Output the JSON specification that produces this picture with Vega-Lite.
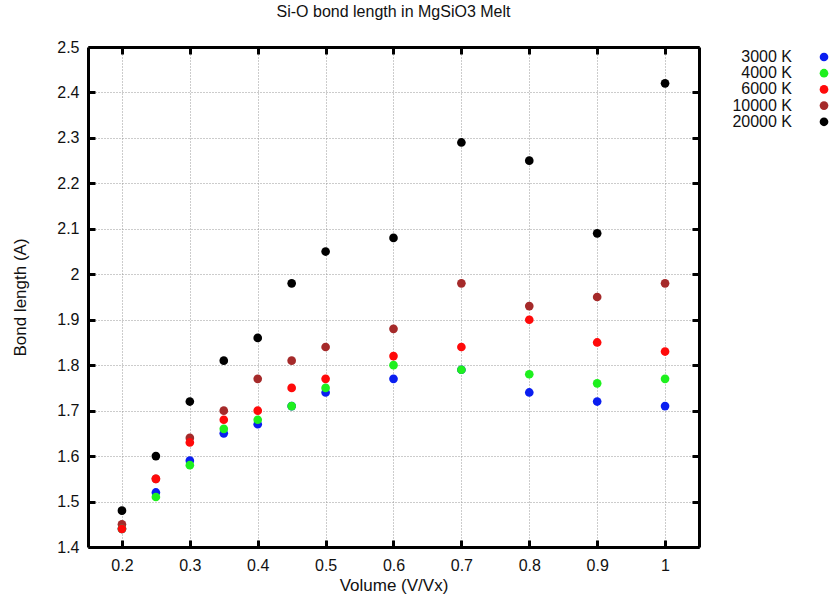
{
  "$schema": "https://vega.github.io/schema/vega-lite/v6.json",
  "width": 611,
  "height": 500,
  "autosize": "none",
  "padding": {"left": 88, "top": 47, "right": 131, "bottom": 52},
  "background": "white",
  "config": {
    "view": {"stroke": null},
    "font": "Liberation Sans",
    "title": {"font": "Liberation Sans", "fontSize": 16, "fontWeight": "normal", "color": "#111"}
  },
  "title": {"text": "Si-O bond length in MgSiO3 Melt", "offset": 19},
  "data": {"values": [
    {"v": 0.2, "T": "3000 K", "b": 1.44}, {"v": 0.25, "T": "3000 K", "b": 1.52}, {"v": 0.3, "T": "3000 K", "b": 1.59}, {"v": 0.35, "T": "3000 K", "b": 1.65}, {"v": 0.4, "T": "3000 K", "b": 1.67}, {"v": 0.45, "T": "3000 K", "b": 1.71}, {"v": 0.5, "T": "3000 K", "b": 1.74}, {"v": 0.6, "T": "3000 K", "b": 1.77}, {"v": 0.7, "T": "3000 K", "b": 1.79}, {"v": 0.8, "T": "3000 K", "b": 1.74}, {"v": 0.9, "T": "3000 K", "b": 1.72}, {"v": 1.0, "T": "3000 K", "b": 1.71},
    {"v": 0.2, "T": "4000 K", "b": 1.44}, {"v": 0.25, "T": "4000 K", "b": 1.51}, {"v": 0.3, "T": "4000 K", "b": 1.58}, {"v": 0.35, "T": "4000 K", "b": 1.66}, {"v": 0.4, "T": "4000 K", "b": 1.68}, {"v": 0.45, "T": "4000 K", "b": 1.71}, {"v": 0.5, "T": "4000 K", "b": 1.75}, {"v": 0.6, "T": "4000 K", "b": 1.80}, {"v": 0.7, "T": "4000 K", "b": 1.79}, {"v": 0.8, "T": "4000 K", "b": 1.78}, {"v": 0.9, "T": "4000 K", "b": 1.76}, {"v": 1.0, "T": "4000 K", "b": 1.77},
    {"v": 0.2, "T": "6000 K", "b": 1.44}, {"v": 0.25, "T": "6000 K", "b": 1.55}, {"v": 0.3, "T": "6000 K", "b": 1.63}, {"v": 0.35, "T": "6000 K", "b": 1.68}, {"v": 0.4, "T": "6000 K", "b": 1.70}, {"v": 0.45, "T": "6000 K", "b": 1.75}, {"v": 0.5, "T": "6000 K", "b": 1.77}, {"v": 0.6, "T": "6000 K", "b": 1.82}, {"v": 0.7, "T": "6000 K", "b": 1.84}, {"v": 0.8, "T": "6000 K", "b": 1.90}, {"v": 0.9, "T": "6000 K", "b": 1.85}, {"v": 1.0, "T": "6000 K", "b": 1.83},
    {"v": 0.2, "T": "10000 K", "b": 1.45}, {"v": 0.25, "T": "10000 K", "b": 1.55}, {"v": 0.3, "T": "10000 K", "b": 1.64}, {"v": 0.35, "T": "10000 K", "b": 1.70}, {"v": 0.4, "T": "10000 K", "b": 1.77}, {"v": 0.45, "T": "10000 K", "b": 1.81}, {"v": 0.5, "T": "10000 K", "b": 1.84}, {"v": 0.6, "T": "10000 K", "b": 1.88}, {"v": 0.7, "T": "10000 K", "b": 1.98}, {"v": 0.8, "T": "10000 K", "b": 1.93}, {"v": 0.9, "T": "10000 K", "b": 1.95}, {"v": 1.0, "T": "10000 K", "b": 1.98},
    {"v": 0.2, "T": "20000 K", "b": 1.48}, {"v": 0.25, "T": "20000 K", "b": 1.60}, {"v": 0.3, "T": "20000 K", "b": 1.72}, {"v": 0.35, "T": "20000 K", "b": 1.81}, {"v": 0.4, "T": "20000 K", "b": 1.86}, {"v": 0.45, "T": "20000 K", "b": 1.98}, {"v": 0.5, "T": "20000 K", "b": 2.05}, {"v": 0.6, "T": "20000 K", "b": 2.08}, {"v": 0.7, "T": "20000 K", "b": 2.29}, {"v": 0.8, "T": "20000 K", "b": 2.25}, {"v": 0.9, "T": "20000 K", "b": 2.09}, {"v": 1.0, "T": "20000 K", "b": 2.42}
  ]},
  "resolve": {"axis": {"x": "independent", "y": "independent"}},
  "layer": [
    {
      "mark": {"type": "point", "opacity": 0},
      "encoding": {
        "x": {"field": "v", "type": "quantitative", "scale": {"domain": [0.15, 1.05], "nice": false, "zero": false},
              "axis": {"orient": "top", "labels": false, "grid": true, "gridColor": "#999999", "gridDash": [1, 2], "gridWidth": 1, "gridOpacity": 1,
                       "domainColor": "black", "domainWidth": 3, "ticks": true, "tickColor": "black", "tickWidth": 3, "tickSize": -7,
                       "title": null, "values": [0.2, 0.3, 0.4, 0.5, 0.6, 0.7, 0.8, 0.9, 1.0]}},
        "y": {"field": "b", "type": "quantitative", "scale": {"domain": [1.4, 2.5], "nice": false, "zero": false},
              "axis": {"orient": "right", "labels": false, "grid": true, "gridColor": "#999999", "gridDash": [1, 2], "gridWidth": 1, "gridOpacity": 1,
                       "domainColor": "black", "domainWidth": 3, "ticks": true, "tickColor": "black", "tickWidth": 3, "tickSize": -7,
                       "title": null, "values": [1.4, 1.5, 1.6, 1.7, 1.8, 1.9, 2.0, 2.1, 2.2, 2.3, 2.4, 2.5]}}
      }
    },
    {
      "mark": {"type": "circle", "size": 75, "opacity": 1},
      "encoding": {
        "x": {"field": "v", "type": "quantitative", "scale": {"domain": [0.15, 1.05], "nice": false, "zero": false},
              "axis": {"orient": "bottom", "title": "Volume (V/Vx)", "format": "~g", "grid": false,
                       "domainColor": "black", "domainWidth": 3, "ticks": true, "tickColor": "black", "tickWidth": 3, "tickSize": -7,
                       "labelFont": "Liberation Sans", "labelFontSize": 16, "labelColor": "#111", "labelPadding": 17,
                       "titleFont": "Liberation Sans", "titleFontSize": 17, "titleFontWeight": "normal", "titleColor": "#111", "titlePadding": 4,
                       "values": [0.2, 0.3, 0.4, 0.5, 0.6, 0.7, 0.8, 0.9, 1.0]}},
        "y": {"field": "b", "type": "quantitative", "scale": {"domain": [1.4, 2.5], "nice": false, "zero": false},
              "axis": {"orient": "left", "title": "Bond length (A)", "format": "~g", "grid": false,
                       "domainColor": "black", "domainWidth": 3, "ticks": true, "tickColor": "black", "tickWidth": 3, "tickSize": -7,
                       "labelFont": "Liberation Sans", "labelFontSize": 16, "labelColor": "#111", "labelPadding": 16,
                       "titleFont": "Liberation Sans", "titleFontSize": 17, "titleFontWeight": "normal", "titleColor": "#111", "titlePadding": 27,
                       "values": [1.4, 1.5, 1.6, 1.7, 1.8, 1.9, 2.0, 2.1, 2.2, 2.3, 2.4, 2.5]}},
        "color": {"field": "T", "type": "nominal", "sort": null,
                  "scale": {"domain": ["3000 K", "4000 K", "6000 K", "10000 K", "20000 K"], "range": ["#0a1ef0", "#1ef01e", "#ff0a0a", "#a52a2a", "#000000"]},
                  "legend": {"title": null, "orient": "none", "legendX": 728, "legendY": 2, "padding": 0, "symbolType": "circle", "symbolSize": 75, "symbolOpacity": 1,
                             "labelAlign": "right", "labelOffset": -40, "labelFontSize": 16, "labelFont": "Liberation Sans", "labelColor": "#111", "rowPadding": 0.2}},
        "order": {"field": "T", "type": "nominal"}
      }
    }
  ]
}
